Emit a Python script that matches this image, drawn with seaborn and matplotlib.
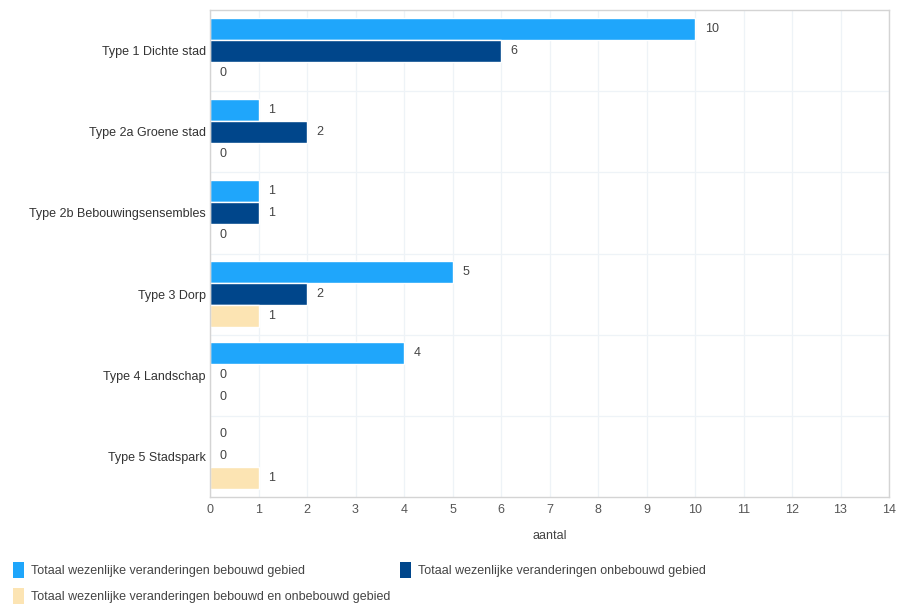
import matplotlib
matplotlib.use("Agg")
import matplotlib.pyplot as plt
import seaborn as sns
import pandas as pd
import numpy as np
from matplotlib.patches import Patch

categories = ["Type 1 Dichte stad", "Type 2a Groene stad", "Type 2b Bebouwingsensembles",
              "Type 3 Dorp", "Type 4 Landschap", "Type 5 Stadspark"]
series_names = ["Totaal wezenlijke veranderingen bebouwd gebied",
                "Totaal wezenlijke veranderingen onbebouwd gebied",
                "Totaal wezenlijke veranderingen bebouwd en onbebouwd gebied"]
bebouwd = [10, 1, 1, 5, 4, 0]
onbebouwd = [6, 2, 1, 2, 0, 0]
beide = [0, 0, 0, 1, 0, 1]
colors = ["#1fa6fb", "#00468b", "#fce4b3"]
x_ticks = list(range(0, 15))

rows = []
for name, vals in zip(series_names, [bebouwd, onbebouwd, beide]):
    for c, v in zip(categories, vals):
        rows.append({"categorie": c, "serie": name, "aantal": v})
df = pd.DataFrame(rows)

sns.set_theme(style="white")
plt.rcParams['font.family'] = ['Liberation Sans', 'DejaVu Sans']

fig = plt.figure(figsize=(8.98, 6.10), dpi=100)
ax = fig.add_axes([210/898, 1-497/610, (889-210)/898, (497-10)/610])

sns.barplot(data=df, y="categorie", x="aantal", hue="serie", order=categories,
            hue_order=series_names, palette=colors, orient="h", width=0.815,
            saturation=1, ax=ax, legend=False)

for cont in ax.containers:
    ax.bar_label(cont, labels=[f"{int(b.get_width())}" for b in cont], padding=7,
                 fontsize=9, color="#444444")

ax.set_xlim(0, 14)
ax.set_ylim(5.5, -0.5)
ax.set_xticks(x_ticks)
ax.set_xticklabels([str(t) for t in x_ticks], fontsize=9, color="#555555")
ax.set_yticks(range(len(categories)))
ax.set_yticklabels(categories, fontsize=9, color="#333333")
ax.set_yticks(np.arange(0.5, len(categories) - 0.5, 1), minor=True)
ax.tick_params(axis="both", which="both", length=0, pad=3)
ax.tick_params(axis="x", pad=5)
ax.grid(True, axis="x", which="major", color="#eef3f7", linewidth=0.9)
ax.grid(True, axis="y", which="minor", color="#eef3f7", linewidth=0.9)
ax.set_axisbelow(True)
ax.set_ylabel("")
ax.set_xlabel("aantal", fontsize=9, color="#444444", labelpad=10)
for s in ax.spines.values():
    s.set_color("#d4d4d4")
    s.set_linewidth(1)

order = [0, 2, 1]
handles = [Patch(facecolor=colors[i], edgecolor="none") for i in order]
labels = [series_names[i] for i in order]
leg = fig.legend(handles, labels, loc="lower left", bbox_to_anchor=(0.005, -0.005),
                 ncol=2, frameon=False, fontsize=9, handlelength=0.9, handleheight=1.6,
                 handletextpad=0.5, columnspacing=0.8, labelspacing=0.85,
                 borderaxespad=0.3)
for t in leg.get_texts():
    t.set_color("#444444")

fig.savefig("out.png", dpi=100, facecolor="white")
